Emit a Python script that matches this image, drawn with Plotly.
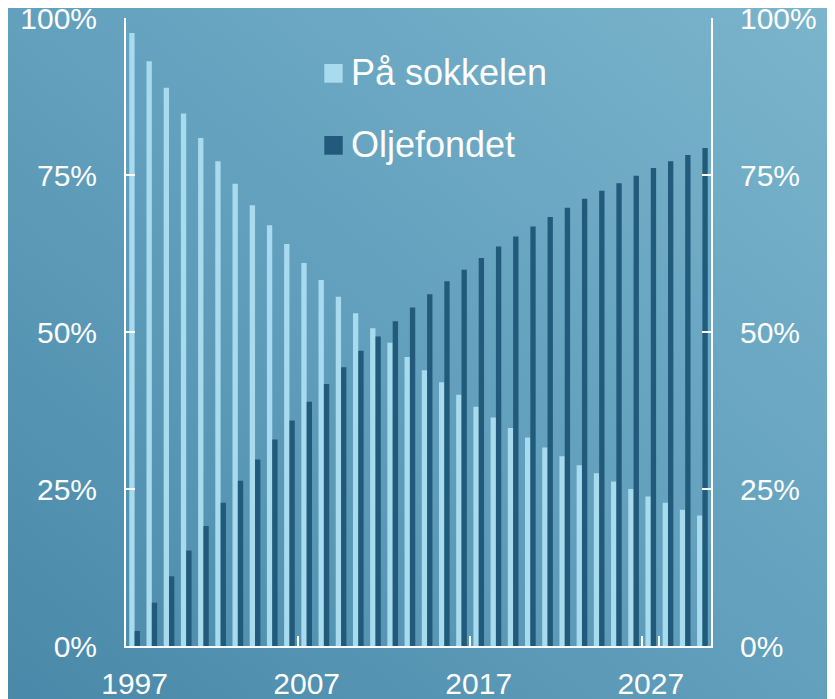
import base64
import plotly.graph_objects as go

years = [str(y) for y in range(1997, 2031)]
sokkelen = [97.6, 93.1, 88.9, 84.8, 80.9, 77.2, 73.6, 70.2, 67.0, 64.0,
            61.0, 58.3, 55.6, 53.0, 50.6, 48.3, 46.0, 43.9, 42.0, 40.0,
            38.1, 36.4, 34.7, 33.2, 31.6, 30.2, 28.8, 27.5, 26.2, 25.0,
            23.8, 22.8, 21.7, 20.8]
oljefondet = [2.4, 6.9, 11.1, 15.2, 19.1, 22.8, 26.3, 29.7, 32.9, 35.9,
              38.9, 41.7, 44.4, 47.0, 49.3, 51.7, 53.9, 56.0, 58.1, 59.9,
              61.8, 63.6, 65.2, 66.8, 68.3, 69.8, 71.2, 72.5, 73.7, 74.9,
              76.1, 77.2, 78.2, 79.3]
series_names = ["På sokkelen", "Oljefondet"]
tick_years = ["1997", "2007", "2017", "2027"]
y_ticks = [0, 25, 50, 75, 100]
y_ticktext = ["0%", "25%", "50%", "75%", "100%"]

LIGHT = "#a9dbef"
DARK = "#215a7a"
FONT = "Liberation Sans, Arial, sans-serif"

OFF = 8  # page body margin in the screenshot
W, H = 835 - OFF, 699 - OFF
PW, PH = 585, 628
ML, MT = 126 - OFF, 18 - OFF
MR, MB = W - ML - PW, H - MT - PH

svg = (f"<svg xmlns='http://www.w3.org/2000/svg' width='835' height='699' "
       f"viewBox='0 0 835 699' preserveAspectRatio='none'>"
       "<defs><linearGradient id='g' x1='0' y1='1' x2='1' y2='0'>"
       "<stop offset='0' stop-color='#4a88a9'/>"
       "<stop offset='0.5' stop-color='#62a0bd'/>"
       "<stop offset='1' stop-color='#7bb5cc'/>"
       "</linearGradient></defs>"
       "<rect width='835' height='699' fill='url(#g)'/></svg>")
bg_uri = "data:image/svg+xml;base64," + base64.b64encode(svg.encode()).decode()

fig = go.Figure()
fig.add_trace(go.Bar(x=years, y=sokkelen, name=series_names[0],
                     marker=dict(color=LIGHT, line=dict(width=0)), showlegend=False))
fig.add_trace(go.Bar(x=years, y=oljefondet, name=series_names[1],
                     marker=dict(color=DARK, line=dict(width=0)), showlegend=False))
# invisible helper so the right-hand axis is rendered
fig.add_trace(go.Scatter(x=years, y=oljefondet, yaxis="y2", mode="markers",
                         marker=dict(opacity=0, size=1), hoverinfo="skip",
                         showlegend=False))


# screenshot pixel -> paper coordinate helpers
def px_x(p):
    return (p - OFF - ML) / PW


def px_y(p):
    return (OFF + MT + PH - p) / PH


shapes = []
annotations = []
legend_rows = [(series_names[0], LIGHT, 64, 82.7), (series_names[1], DARK, 136, 154.7)]
for name, col, top, bot in legend_rows:
    shapes.append(dict(type="rect", xref="paper", yref="paper",
                       x0=px_x(324.3), x1=px_x(342.7), y0=px_y(bot), y1=px_y(top),
                       fillcolor=col, line=dict(width=0)))
    annotations.append(dict(text=name, xref="paper", yref="paper",
                            x=px_x(349), y=px_y((top + bot) / 2 - 1),
                            xanchor="left", yanchor="middle", showarrow=False,
                            font=dict(family=FONT, size=36, color="white")))

axis_common = dict(
    range=[0, 100], tickmode="array", tickvals=y_ticks, ticktext=y_ticktext,
    ticks="inside", ticklen=9, tickwidth=2, tickcolor="white",
    showline=True, linecolor="white", linewidth=2,
    showgrid=False, zeroline=False, automargin=False,
    tickfont=dict(family=FONT, size=30, color="white"),
    ticklabelstandoff=21, ticklabeloverflow="allow",
)

fig.update_layout(
    width=W, height=H,
    margin=dict(l=ML, r=MR, t=MT, b=MB, pad=0, autoexpand=False),
    paper_bgcolor="#62a0bd", plot_bgcolor="rgba(0,0,0,0)",
    barmode="group", bargap=0.38, bargroupgap=0,
    xaxis=dict(type="category", range=[-0.5, len(years) - 0.5],
               tickmode="array", tickvals=tick_years,
               ticktext=tick_years, tickangle=0,
               tickson="boundaries", ticks="inside", ticklen=10, tickwidth=2,
               tickcolor="white", showline=True, linecolor="white", linewidth=2,
               showgrid=False, zeroline=False, automargin=False,
               tickfont=dict(family=FONT, size=30, color="white"),
               ticklabelstandoff=10, ticklabeloverflow="allow"),
    yaxis=dict(side="left", **axis_common),
    yaxis2=dict(side="right", overlaying="y", anchor="x", **axis_common),
    shapes=shapes, annotations=annotations,
    images=[dict(source=bg_uri, xref="paper", yref="paper",
                 x=px_x(0), y=px_y(0), sizex=835 / PW, sizey=699 / PH,
                 sizing="stretch", xanchor="left", yanchor="top", layer="below")],
)

fig.write_html("out.html")
